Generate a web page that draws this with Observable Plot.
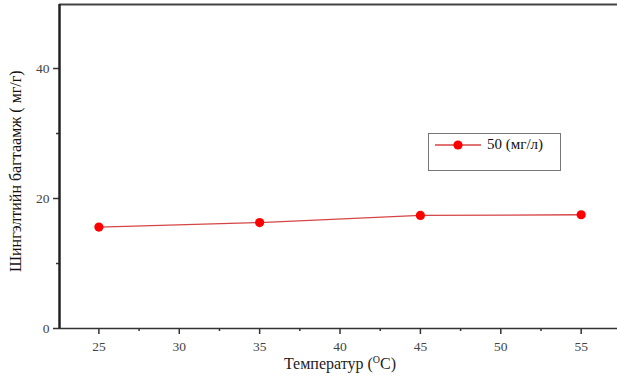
<!DOCTYPE html>
<html>
<head>
<meta charset="utf-8">
<script src="https://cdn.jsdelivr.net/npm/d3@7"></script>
<script src="https://cdn.jsdelivr.net/npm/@observablehq/plot@0.6"></script>
<style>
  body { margin: 0; background: #fff; }
  #wrap { position: relative; width: 617px; height: 376px; font-family: "Liberation Serif", serif; }
  #wrap svg text { font-family: "Liberation Serif", serif !important; }
  #legend { position: absolute; left: 428px; top: 133px; width: 133px; height: 38px; box-sizing: border-box;
            border: 1.5px solid #777; background: #fff; }
  #legend svg { position: absolute; left: 6px; top: 5px; }
  #legend span { position: absolute; left: 58px; top: 2px; font-size: 15px; color: #111; }
  #xlabel { position: absolute; left: 0; width: 680px; top: 354px; text-align: center; font-size: 16px; color: #222; }
  #xlabel sup { font-size: 10px; }
</style>
</head>
<body>
<div id="wrap"></div>
<script>
const temperatures = [25, 35, 45, 55];
const capacity = [15.6, 16.3, 17.4, 17.5];
const seriesName = "50 (мг/л)";
const xTicks = [25, 30, 35, 40, 45, 50, 55];
const xMinor = [27.5, 32.5, 37.5, 42.5, 47.5, 52.5];
const yTicks = [0, 20, 40];
const yMinor = [10, 30];
const yLabel = "Шингэлтийн багтаамж ( мг/г)";

const data = temperatures.map((t, i) => ({t, v: capacity[i]}));
const xDom = [22.55, 57.26];
const yDom = [0, 49.85];
const font = "Liberation Serif";

const chart = Plot.plot({
  width: 617,
  height: 376,
  marginLeft: 59,
  marginRight: 0,
  marginTop: 4,
  marginBottom: 48,
  style: {fontFamily: font, background: "#fff"},
  x: {domain: xDom},
  y: {domain: yDom},
  marks: [
    Plot.axisX({ticks: xTicks, tickSize: 6, tickPadding: 7, fontSize: 13.5, color: "#444", label: null, tickFormat: d => d, stroke: "#333", strokeWidth: 1.5}),
    Plot.axisX({ticks: xMinor, tickSize: 3, text: null, label: null, stroke: "#333", strokeWidth: 1.5}),
    Plot.axisY({ticks: yTicks, tickSize: 6, tickPadding: 4, fontSize: 13.5, color: "#444", label: null, stroke: "#333", strokeWidth: 1.5}),
    Plot.axisY({ticks: yMinor, tickSize: 3, text: null, label: null, stroke: "#333", strokeWidth: 1.5}),
    Plot.ruleY([yDom[0]], {stroke: "#333", strokeWidth: 1.6}),
    Plot.ruleY([yDom[1]], {stroke: "#444", strokeWidth: 2}),
    Plot.ruleX([xDom[0]], {stroke: "#222", strokeWidth: 2.5}),
    Plot.line(data, {x: "t", y: "v", stroke: "#d64545", strokeWidth: 1.3}),
    Plot.dot(data, {x: "t", y: "v", fill: "#ff0000", r: 4.6}),
    Plot.text([yLabel], {text: d => d, frameAnchor: "left", textAnchor: "middle", y: [24.2], dx: -44, rotate: -90, fontSize: 16, fill: "#111", fontFamily: font})
  ]
});

const wrap = document.getElementById("wrap");
wrap.appendChild(chart);

const legend = document.createElement("div");
legend.id = "legend";
legend.innerHTML = `<svg width="50" height="14"><line x1="0" y1="6" x2="46" y2="6" stroke="#d64545" stroke-width="1.3"/><circle cx="23" cy="6" r="4.6" fill="#ff0000"/></svg><span></span>`;
legend.querySelector("span").textContent = seriesName;
wrap.appendChild(legend);

const xl = document.createElement("div");
xl.id = "xlabel";
xl.innerHTML = `Температур (<sup>O</sup>C)`;
wrap.appendChild(xl);
</script>
</body>
</html>
